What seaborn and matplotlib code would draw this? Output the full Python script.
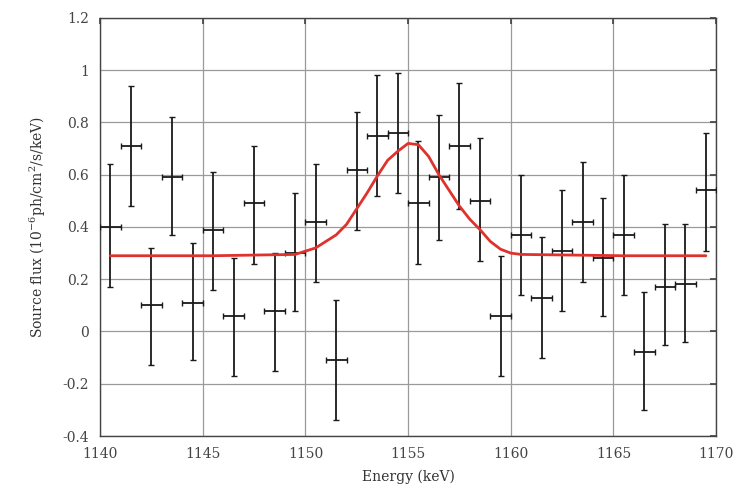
import matplotlib
matplotlib.use("Agg")
import matplotlib.pyplot as plt
import seaborn as sns
import pandas as pd
import numpy as np
from matplotlib.ticker import FuncFormatter

# spectrum bins (keV) and source flux with error bar limits
energy = [1140.5, 1141.5, 1142.5, 1143.5, 1144.5, 1145.5, 1146.5, 1147.5, 1148.5, 1149.5,
          1150.5, 1151.5, 1152.5, 1153.5, 1154.5, 1155.5, 1156.5, 1157.5, 1158.5, 1159.5,
          1160.5, 1161.5, 1162.5, 1163.5, 1164.5, 1165.5, 1166.5, 1167.5, 1168.5, 1169.5]
flux = [0.40, 0.71, 0.10, 0.59, 0.11, 0.39, 0.06, 0.49, 0.08, 0.30,
        0.42, -0.11, 0.62, 0.75, 0.76, 0.49, 0.59, 0.71, 0.50, 0.06,
        0.37, 0.13, 0.31, 0.42, 0.28, 0.37, -0.08, 0.17, 0.18, 0.54]
flux_hi = [0.64, 0.94, 0.32, 0.82, 0.34, 0.61, 0.28, 0.71, 0.30, 0.53,
           0.64, 0.12, 0.84, 0.98, 0.99, 0.73, 0.83, 0.95, 0.74, 0.29,
           0.60, 0.36, 0.54, 0.65, 0.51, 0.60, 0.15, 0.41, 0.41, 0.76]
flux_lo = [0.17, 0.48, -0.13, 0.37, -0.11, 0.16, -0.17, 0.26, -0.15, 0.08,
           0.19, -0.34, 0.39, 0.52, 0.53, 0.26, 0.35, 0.47, 0.27, -0.17,
           0.14, -0.10, 0.08, 0.19, 0.06, 0.14, -0.30, -0.05, -0.04, 0.31]
bin_halfwidth = 0.5

# fitted line model
model_energy = [1140.5, 1145.5, 1149.5, 1150.5, 1151.0, 1151.5, 1152.0, 1152.5, 1153.0,
                1153.5, 1154.0, 1154.5, 1155.0, 1155.5, 1156.0, 1156.5, 1157.0, 1157.5,
                1158.0, 1158.5, 1159.0, 1159.5, 1160.0, 1160.5, 1165.5, 1169.5]
model_flux = [0.29, 0.29, 0.295, 0.32, 0.345, 0.37, 0.41, 0.47, 0.53,
              0.595, 0.655, 0.69, 0.72, 0.715, 0.67, 0.60, 0.54, 0.48,
              0.43, 0.39, 0.345, 0.315, 0.30, 0.295, 0.29, 0.29]

sns.set_theme(style="whitegrid")
plt.rcParams['font.family'] = ['DejaVu Serif']
plt.rcParams['mathtext.fontset'] = 'dejavuserif'

fig = plt.figure(figsize=(7.36, 4.94), dpi=100)
ax = fig.add_axes([0.136, 0.1174, 0.837, 0.8462])

err_lo = np.array(flux) - np.array(flux_lo)
err_hi = np.array(flux_hi) - np.array(flux)
ax.errorbar(energy, flux, yerr=[err_lo, err_hi], xerr=bin_halfwidth,
            fmt='none', ecolor='#1a1a1a', elinewidth=1.3, capsize=2, capthick=1.0, zorder=3)

model = pd.DataFrame({'energy': model_energy, 'flux': model_flux})
sns.lineplot(data=model, x='energy', y='flux', ax=ax, color='#e0322c', linewidth=2.0, zorder=4)

ax.set_xlim(1140, 1170)
ax.set_ylim(-0.4, 1.2)
ax.set_xticks(range(1140, 1171, 5))
ax.set_yticks(np.arange(-0.4, 1.21, 0.2))
ax.yaxis.set_major_formatter(FuncFormatter(lambda v, p: f"{v:g}" if abs(v) > 1e-9 else "0"))

ax.set_facecolor('white')
ax.grid(True, color='#9a9a9a', linewidth=0.9)
for s in ax.spines.values():
    s.set_color('#444444')
    s.set_linewidth(1.0)
ax.tick_params(direction='in', length=4, color='#444444', top=True, right=True,
               labelsize=10, labelcolor='#444444', pad=8)

ax.set_xlabel("Energy (keV)", fontsize=10, color='#333333', labelpad=6)
ax.set_ylabel(r"Source flux (10$^{-6}$ph/cm$^{2}$/s/keV)", fontsize=10, color='#333333', labelpad=10)

fig.savefig("out.png", dpi=100)
